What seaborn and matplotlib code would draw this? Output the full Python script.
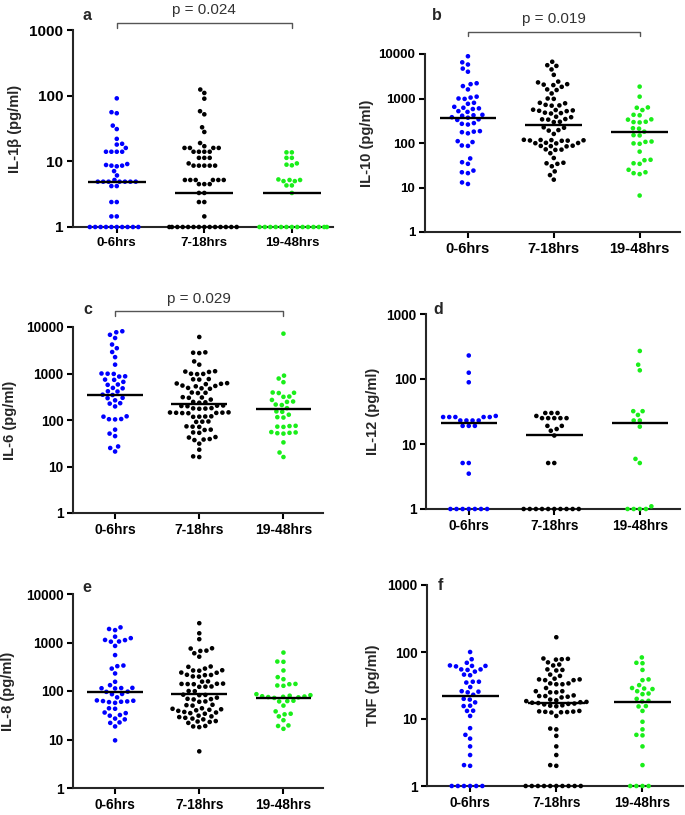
import numpy as np
import pandas as pd
import matplotlib
matplotlib.use("Agg")
import matplotlib.pyplot as plt
import seaborn as sns
from matplotlib.ticker import NullLocator

groups = ["0-6hrs", "7-18hrs", "19-48hrs"]
colors = ["#0000ff", "#000000", "#1aee1a"]

# (a) IL-1beta
il1b_0_6 = [91, 56, 54, 35, 31, 22, 18.5, 18, 16, 14, 14, 14, 14, 9.1, 8.8, 8.6, 8.6, 8.4,
            7.1, 6.1, 5.2, 4.9, 4.9, 4.9, 4.9, 4.9, 4.9, 4.9, 4.2, 4.2, 2.4, 2.4, 1.45, 1.45,
            1, 1, 1, 1, 1, 1, 1, 1, 1, 1]
il1b_7_18 = [124, 110, 90, 58, 52, 33, 28, 19, 17, 16, 16, 16, 16, 14, 14, 14, 14, 11.3, 11.3,
             11.3, 9.3, 8.6, 8.6, 8.6, 8.6, 8.6, 5.2, 5.2, 5.2, 5.2, 5.2, 5.2, 4.5, 4.5, 4.5,
             3.3, 3.3, 2.4, 2.4, 1.45, 1, 1, 1, 1, 1, 1, 1, 1, 1, 1, 1, 1, 1, 1]
il1b_19_48 = [13.7, 13.7, 11.3, 11.3, 9.3, 8.9, 8.7, 5.3, 5.2, 5.2, 5.0, 5.0, 4.3, 4.3, 3.3,
              1, 1, 1, 1, 1, 1, 1, 1, 1, 1, 1, 1, 1, 1]
il1b_medians = [4.9, 3.3, 3.3]

# (b) IL-10
il10_0_6 = [8900, 6500, 5800, 4700, 4000, 2200, 2100, 1900, 1600, 1100, 1050, 1000, 980, 800,
            760, 650, 620, 600, 580, 520, 500, 430, 420, 410, 380, 370, 340, 330, 280, 270,
            260, 185, 180, 175, 165, 110, 105, 88, 86, 45, 37, 34, 24, 22, 21, 13, 12]
il10_7_18 = [6700, 5600, 5400, 4500, 3400, 2400, 2300, 2100, 2050, 2000, 1830, 1600, 1550,
             1300, 1000, 980, 800, 780, 720, 700, 690, 560, 550, 540, 530, 520, 480, 470, 460,
             390, 380, 345, 340, 335, 300, 295, 225, 220, 195, 190, 160, 118, 117, 116, 115,
             114, 113, 112, 101, 100, 99, 98, 87, 86, 85, 84, 72, 71, 70, 59, 46, 36, 35, 34,
             30, 23, 19, 15]
il10_19_48 = [1850, 1100, 630, 620, 550, 430, 420, 340, 335, 300, 295, 290, 215, 210, 180, 150,
              148, 108, 106, 98, 96, 64, 42, 41, 35, 34, 25, 22, 21, 20, 6.6]
il10_medians = [370, 250, 180]

# (c) IL-6
il6_0_6 = [8100, 7700, 6800, 5800, 4200, 3500, 2900, 2250, 1550, 1000, 990, 980, 870, 860, 740,
           730, 660, 580, 570, 490, 480, 415, 410, 350, 345, 300, 295, 265, 230, 225, 196, 120,
           118, 105, 104, 103, 62, 51, 45, 27, 25, 21]
il6_7_18 = [6100, 2850, 2800, 2750, 1820, 1550, 1120, 1100, 1080, 990, 980, 970, 760, 750, 740,
            620, 610, 600, 590, 550, 540, 530, 490, 480, 470, 390, 385, 380, 310, 305, 300, 275,
            245, 240, 235, 205, 203, 200, 198, 180, 178, 176, 174, 146, 145, 144, 143, 142, 141,
            140, 120, 119, 118, 117, 93, 92, 91, 73, 72, 71, 62, 61, 54, 53, 43, 42, 39, 38, 37,
            31, 23, 16.5, 16]
il6_19_48 = [7200, 900, 780, 650, 390, 385, 380, 320, 315, 270, 250, 245, 215, 210, 180, 153,
             150, 130, 115, 113, 75, 74, 72, 71, 55, 54, 53, 52, 51, 33, 20, 16]
il6_medians = [350, 225, 175]

# (d) IL-12
il12_0_6 = [230, 125, 89, 27, 26, 26, 26, 26, 26, 23, 23, 23, 23, 19, 19, 19, 5.1, 5.1, 3.5,
            1, 1, 1, 1, 1, 1, 1]
il12_7_18 = [30, 30, 30, 27, 25, 25, 25, 25, 25, 19, 19, 17, 16, 13.5, 5.1, 5.1,
             1, 1, 1, 1, 1, 1, 1, 1, 1, 1]
il12_19_48 = [270, 166, 136, 32, 32, 28, 23, 23, 18.5, 5.9, 5.1, 1.1, 1, 1, 1, 1]
il12_medians = [21, 14, 21]

# (e) IL-8
il8_0_6 = [2050, 1900, 1800, 1320, 1230, 1130, 1120, 1050, 1040, 850, 550, 335, 325, 290, 230,
           155, 132, 116, 115, 114, 113, 97, 96, 87, 86, 74, 64, 63, 62, 61, 60, 59, 57, 44, 43,
           36, 35, 32, 31, 27, 26, 22.5, 22, 18.6, 9.6]
il8_7_18 = [2500, 1550, 1170, 760, 750, 680, 670, 600, 510, 320, 315, 290, 268, 265, 262, 240,
            238, 216, 214, 212, 200, 198, 158, 156, 142, 141, 140, 139, 138, 124, 123, 122, 100,
            99, 84, 83, 82, 73, 69, 68, 67, 61, 60, 52, 51, 50, 44, 43, 42, 41, 40, 39, 37, 36,
            35, 34, 31, 30, 29, 28, 27, 26, 24, 23.5, 23, 22, 19, 18.6, 18, 5.7]
il8_19_48 = [620, 405, 400, 265, 193, 175, 140, 138, 130, 128, 86, 82, 80, 78, 77, 76, 75, 74,
             72, 63, 62, 61, 50, 38, 34, 33, 30, 25, 19.5, 19, 16.6]
il8_medians = [94, 88, 72]

# (f) TNF
tnf_0_6 = [100, 78, 69, 63, 62, 62, 61, 55, 55, 54, 51, 46, 45, 36, 36, 35, 30, 26, 25.6, 25,
           23, 20, 19.5, 17.7, 15.8, 15.6, 13.3, 13.2, 11.1, 7.3, 5.8, 5.1, 3.9, 2.9, 2.05, 2.0,
           1, 1, 1, 1, 1, 1]
tnf_7_18 = [166, 80, 79, 78, 77, 70, 65, 63, 55, 54, 53, 46, 44, 40, 39, 39, 38, 38, 34, 34, 33,
            33, 29, 26, 26, 25, 25, 22.5, 22, 22, 21.5, 21, 19.5, 19, 18.5, 18, 17.8, 17.5, 17.3,
            17, 16.8, 16.5, 16, 15.8, 15.5, 13.2, 13, 12.9, 12.8, 12.7, 12.6, 12.5, 11.1, 7.2,
            7.0, 5.6, 3.9, 2.9, 2.05, 2.0, 1, 1, 1, 1, 1, 1, 1, 1, 1, 1]
tnf_19_48 = [83, 69, 68, 54, 39, 38, 32, 29, 28.5, 28, 26, 24, 23.5, 20, 18.7, 18.3, 15.6, 15.4,
             13.2, 9.1, 7.0, 5.8, 5.7, 3.9, 2.05, 1, 1, 1, 1]
tnf_medians = [22, 17.5, 18]

ylabels = ["IL-1β (pg/ml)", "IL-10 (pg/ml)", "IL-6 (pg/ml)",
           "IL-12 (pg/ml)", "IL-8 (pg/ml)", "TNF (pg/ml)"]
letters = ["a", "b", "c", "d", "e", "f"]
pvalues = ["p = 0.024", "p = 0.019", "p = 0.029", None, None, None]
ymax = [1000, 10000, 10000, 1000, 10000, 1000]

values = [
    [il1b_0_6, il1b_7_18, il1b_19_48],
    [il10_0_6, il10_7_18, il10_19_48],
    [il6_0_6, il6_7_18, il6_19_48],
    [il12_0_6, il12_7_18, il12_19_48],
    [il8_0_6, il8_7_18, il8_19_48],
    [tnf_0_6, tnf_7_18, tnf_19_48],
]
medians = [il1b_medians, il10_medians, il6_medians, il12_medians, il8_medians, tnf_medians]

# layout in pixels: axes box (left, top, right, bottom), letter position, ylabel x, bracket y's
W, H = 685, 815
layout = [
    dict(box=(73, 30, 333, 227), letter=(87, 15), ylab=-0.196, br=(23, 28, 10), ytf=11, xtf=9.5, lw=0.4),
    dict(box=(425, 54, 680, 232), letter=(437, 15), ylab=-0.20, br=(32, 36, 19), ytf=9.5, xtf=10.5, lw=0.9),
    dict(box=(73, 327, 323, 513), letter=(88, 310), ylab=-0.225, br=(311, 316, 299), ytf=9.8, xtf=10, lw=0.9),
    dict(box=(426, 314, 680, 509), letter=(438, 309), ylab=-0.18, br=None, ytf=9.8, xtf=9.8, lw=0.9),
    dict(box=(73, 594, 323, 788), letter=(87, 587), ylab=-0.23, br=None, ytf=9.8, xtf=9.8, lw=0.9),
    dict(box=(427, 585, 683, 786), letter=(440, 586), ylab=-0.184, br=None, ytf=9.8, xtf=9.8, lw=0.9),
]

sns.set_style("ticks")
plt.rcParams["font.family"] = ["Liberation Sans", "DejaVu Sans"]

fig = plt.figure(figsize=(6.85, 8.15), dpi=100)

for i, lay in enumerate(layout):
    l, t, r, b = lay["box"]
    ax = fig.add_axes([l / W, 1 - b / H, (r - l) / W, (b - t) / H])

    df = pd.DataFrame({
        "group": np.repeat(groups, [len(v) for v in values[i]]),
        "value": np.concatenate(values[i]),
    })
    sns.swarmplot(data=df, x="group", y="value", hue="group", order=groups,
                  hue_order=groups, palette=colors, size=3.3, linewidth=lay["lw"],
                  edgecolor="none", legend=False, log_scale=True, clip_on=False, ax=ax)

    # median bars
    xs = np.arange(len(groups))
    ax.hlines(medians[i], xs - 0.33, xs + 0.33, color="black", lw=1.7, zorder=4)

    ax.set_xlim(-0.5, 2.47)
    ax.set_ylim(1, ymax[i])
    ticks = [10 ** k for k in range(int(np.log10(ymax[i])) + 1)]
    ax.set_yticks(ticks, labels=[str(v) for v in ticks], fontsize=lay["ytf"], fontweight="bold")
    ax.yaxis.set_minor_locator(NullLocator())
    ax.set_xticks(xs, labels=groups, fontsize=lay["xtf"], fontweight="bold")
    ax.set_xlabel("")
    ax.set_ylabel(ylabels[i], fontsize=10.5, fontweight="bold")
    ax.yaxis.set_label_coords(lay["ylab"], 0.5)

    sns.despine(ax=ax)
    for s in ("left", "bottom"):
        ax.spines[s].set_linewidth(1.5)
    ax.tick_params(width=1.5, length=4, colors="black", pad=3)

    fig.text(lay["letter"][0] / W, 1 - lay["letter"][1] / H, letters[i],
             fontsize=11.5, fontweight="bold", ha="center", va="center")

    if pvalues[i]:
        y_top, y_tick, y_txt = [1 + (t - y) / (b - t) for y in lay["br"]]
        trans = ax.get_xaxis_transform()
        ax.plot([0, 0, 2, 2], [y_tick, y_top, y_top, y_tick], color="#555555",
                lw=1, transform=trans, clip_on=False)
        ax.text(1, y_txt, pvalues[i], transform=trans, ha="center", va="center",
                fontsize=11, color="#333333")

fig.savefig("out.png", dpi=100)
